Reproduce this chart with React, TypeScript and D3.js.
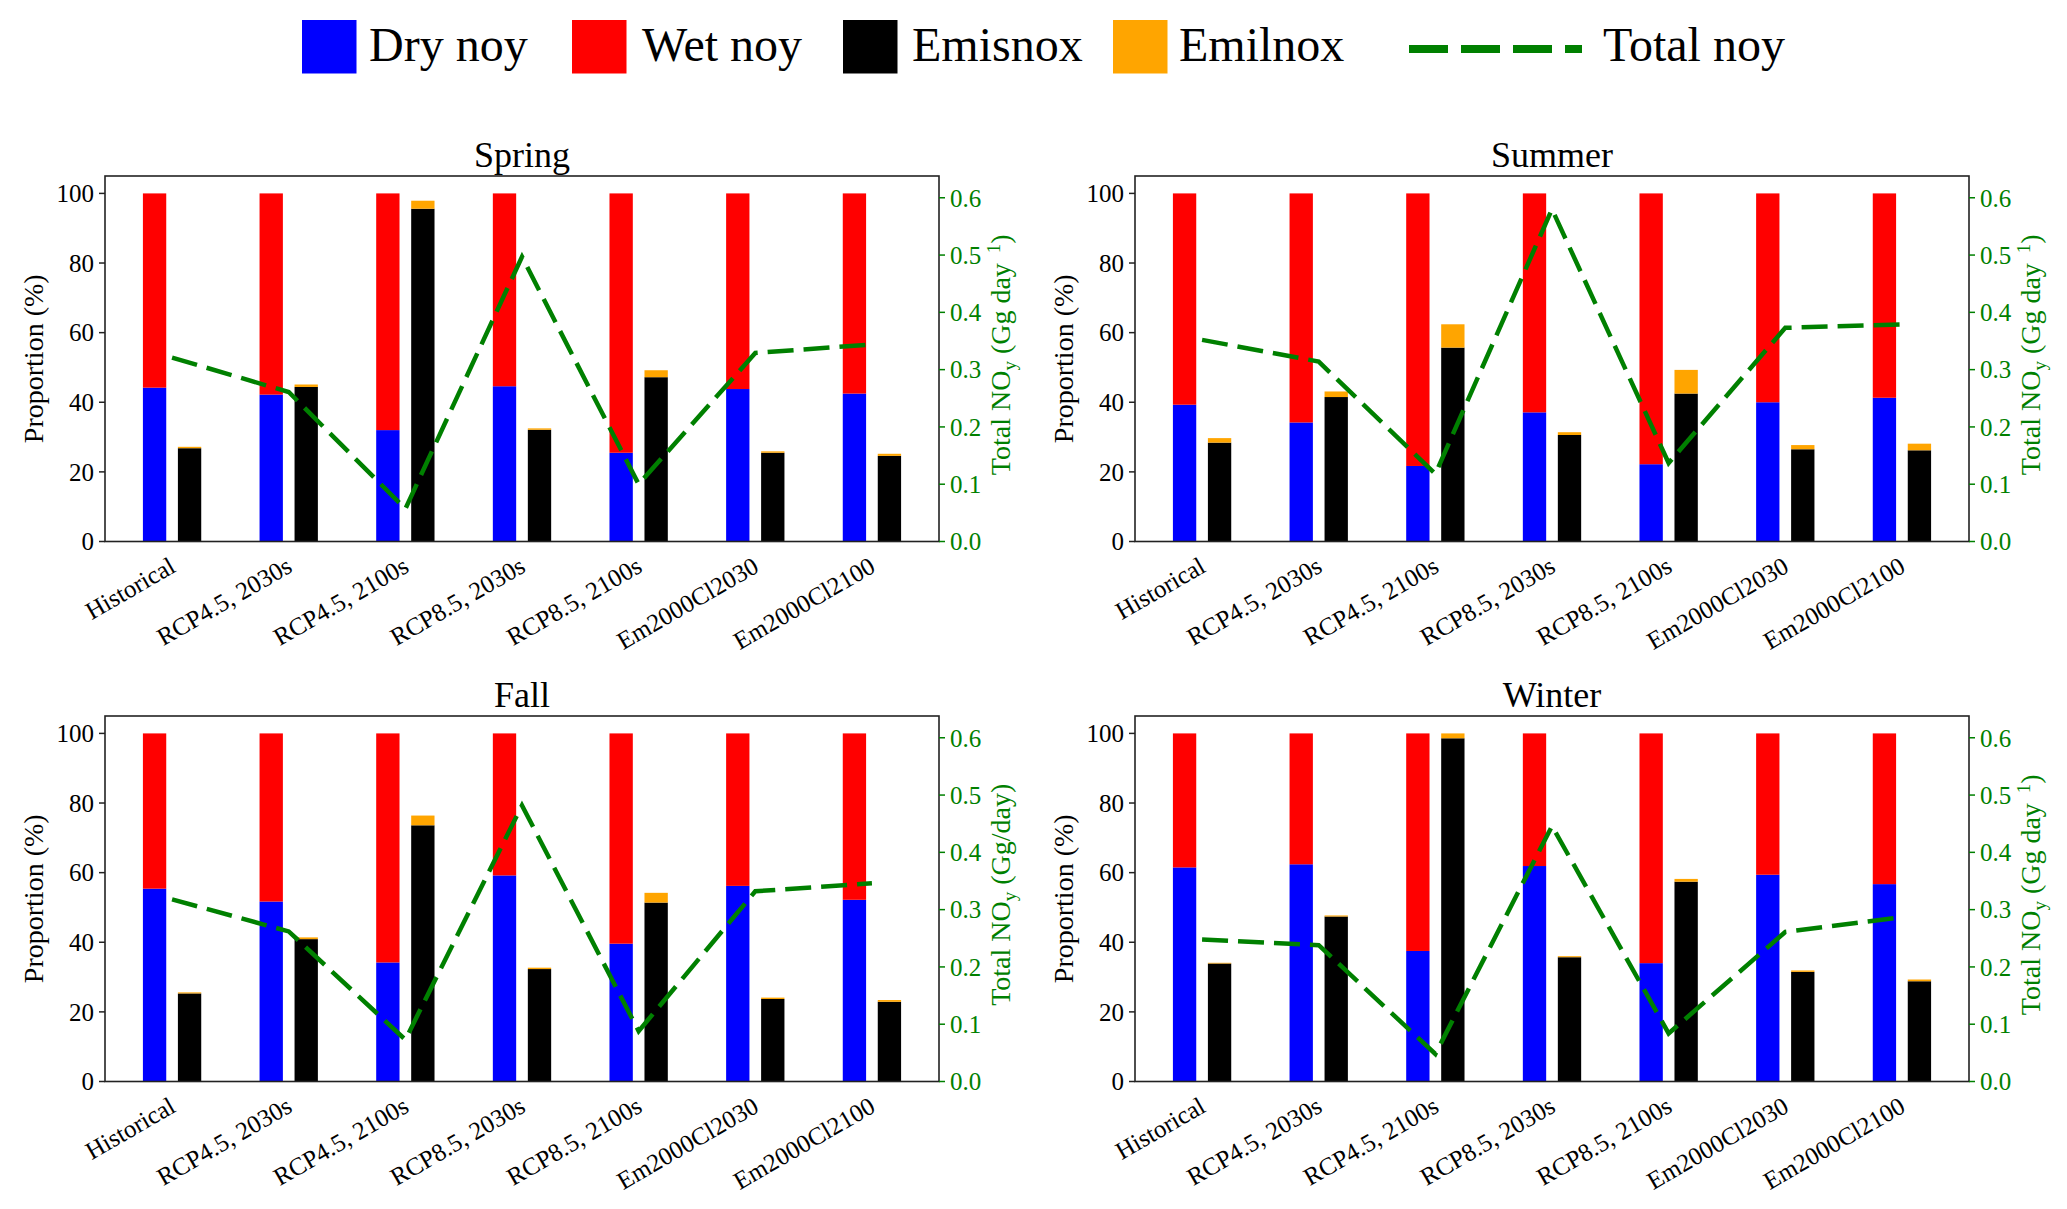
import React from "react";
import * as d3 from "d3";

const categories = [
  "Historical",
  "RCP4.5, 2030s",
  "RCP4.5, 2100s",
  "RCP8.5, 2030s",
  "RCP8.5, 2100s",
  "Em2000Cl2030",
  "Em2000Cl2100",
];

const springDry = [44.2, 42.2, 32.0, 44.6, 25.5, 43.8, 42.5];
const springWet = [55.8, 57.8, 68.0, 55.4, 74.5, 56.2, 57.5];
const springEmisnox = [26.8, 44.4, 95.6, 32.1, 47.2, 25.5, 24.6];
const springEmilnox = [0.4, 0.7, 2.3, 0.4, 2.0, 0.4, 0.6];
const springTotal = [0.321, 0.261, 0.057, 0.497, 0.1, 0.329, 0.344];

const summerDry = [39.3, 34.2, 21.7, 37.1, 22.2, 40.0, 41.3];
const summerWet = [60.7, 65.8, 78.3, 62.9, 77.8, 60.0, 58.7];
const summerEmisnox = [28.4, 41.5, 55.7, 30.6, 42.5, 26.5, 26.2];
const summerEmilnox = [1.3, 1.6, 6.7, 0.8, 6.8, 1.2, 1.9];
const summerTotal = [0.352, 0.314, 0.118, 0.58, 0.137, 0.373, 0.379];

const fallDry = [55.4, 51.7, 34.2, 59.2, 39.6, 56.2, 52.2];
const fallWet = [44.6, 48.3, 65.8, 40.8, 60.4, 43.8, 47.8];
const fallEmisnox = [25.3, 40.9, 73.6, 32.3, 51.4, 23.7, 22.9];
const fallEmilnox = [0.3, 0.5, 2.8, 0.4, 2.8, 0.4, 0.5];
const fallTotal = [0.318, 0.262, 0.073, 0.482, 0.088, 0.332, 0.346];

const winterDry = [61.5, 62.4, 37.5, 61.9, 34.0, 59.4, 56.7];
const winterWet = [38.5, 37.6, 62.5, 38.1, 66.0, 40.6, 43.3];
const winterEmisnox = [33.9, 47.4, 98.6, 35.7, 57.4, 31.5, 28.8];
const winterEmilnox = [0.2, 0.3, 1.4, 0.3, 0.8, 0.4, 0.5];
const winterTotal = [0.248, 0.238, 0.048, 0.446, 0.084, 0.261, 0.287];

const leftTicks = [0, 20, 40, 60, 80, 100];
const rightTicks = [0.0, 0.1, 0.2, 0.3, 0.4, 0.5, 0.6];

const legendLabels = ["Dry noy", "Wet noy", "Emisnox", "Emilnox", "Total noy"];

const seasons = [
  { title: "Spring", unit: "sup", dry: springDry, wet: springWet, emis: springEmisnox, emil: springEmilnox, total: springTotal, left: 105, top: 176 },
  { title: "Summer", unit: "sup", dry: summerDry, wet: summerWet, emis: summerEmisnox, emil: summerEmilnox, total: summerTotal, left: 1135, top: 176 },
  { title: "Fall", unit: "slash", dry: fallDry, wet: fallWet, emis: fallEmisnox, emil: fallEmilnox, total: fallTotal, left: 105, top: 716 },
  { title: "Winter", unit: "sup", dry: winterDry, wet: winterWet, emis: winterEmisnox, emil: winterEmilnox, total: winterTotal, left: 1135, top: 716 },
];

const W = 2067;
const H = 1209;
const PW = 834;
const PH = 365.5;
const FONT = "Liberation Serif, Tinos, Times New Roman, DejaVu Serif, serif";
const BLUE = "#0000ff";
const RED = "#ff0000";
const BLACK = "#000000";
const ORANGE = "#ffa500";
const GREEN = "#008000";

const tf = (size: number, fill = "#000") => ({ fontFamily: FONT, fontSize: size, fill });

function Panel({ s }: { s: any }) {
  const x = d3.scaleLinear().domain([-0.575, 6.575]).range([0, PW]);
  const y = d3.scaleLinear().domain([0, 105]).range([PH, 0]);
  const y2 = d3.scaleLinear().domain([0, 0.638]).range([PH, 0]);
  const bw = x(0.2) - x(0);
  const line = d3
    .line<number>()
    .x((_, i) => x(i))
    .y((d) => y2(d));
  const fmt = d3.format(".1f");
  return (
    <g transform={`translate(${s.left},${s.top})`}>
      <text x={PW / 2} y={-9.5} textAnchor="middle" style={tf(36)}>
        {s.title}
      </text>
      {categories.map((c, i) => (
        <g key={c}>
          <rect x={x(i - 0.15) - bw / 2} width={bw} y={y(s.dry[i])} height={y(0) - y(s.dry[i])} fill={BLUE} />
          <rect x={x(i - 0.15) - bw / 2} width={bw} y={y(s.dry[i] + s.wet[i])} height={y(s.dry[i]) - y(s.dry[i] + s.wet[i])} fill={RED} />
          <rect x={x(i + 0.15) - bw / 2} width={bw} y={y(s.emis[i])} height={y(0) - y(s.emis[i])} fill={BLACK} />
          <rect x={x(i + 0.15) - bw / 2} width={bw} y={y(s.emis[i] + s.emil[i])} height={y(s.emis[i]) - y(s.emis[i] + s.emil[i])} fill={ORANGE} />
        </g>
      ))}
      <path d={line(s.total) || ""} fill="none" stroke={GREEN} strokeWidth={4.5} strokeDasharray="26 10" />
      <rect x={0} y={0} width={PW} height={PH} fill="none" stroke="#222" strokeWidth={1.6} />
      {leftTicks.map((t) => (
        <g key={t} transform={`translate(0,${y(t)})`}>
          <line x1={-6} x2={0} stroke="#222" strokeWidth={1.5} />
          <text x={-11} dy="0.35em" textAnchor="end" style={tf(25)}>
            {t}
          </text>
        </g>
      ))}
      {rightTicks.map((t) => (
        <g key={t} transform={`translate(${PW},${y2(t)})`}>
          <line x1={0} x2={6} stroke={GREEN} strokeWidth={1.5} />
          <text x={11} dy="0.35em" textAnchor="start" style={tf(25, GREEN)}>
            {fmt(t)}
          </text>
        </g>
      ))}
      {categories.map((c, i) => (
        <text
          key={c}
          transform={`translate(${x(i) + 5},${PH + 29.5}) rotate(-30)`}
          textAnchor="end"
          style={tf(25)}
        >
          {c}
        </text>
      ))}
      <text transform={`translate(-62,${PH / 2}) rotate(-90)`} textAnchor="middle" style={tf(28)}>
        Proportion (%)
      </text>
      <text transform={`translate(${PW + 71},${PH / 2 - 4}) rotate(-90)`} textAnchor="middle" style={tf(28, GREEN)}>
        Total NO
        <tspan dy={6} style={{ fontSize: 19 }}>y</tspan>
        {s.unit === "sup" ? (
          <>
            <tspan dy={-6}> (Gg day</tspan>
            <tspan dx={10} dy={-10} style={{ fontSize: 19 }}>1</tspan>
            <tspan dy={10}>)</tspan>
          </>
        ) : (
          <tspan dy={-6}> (Gg/day)</tspan>
        )}
      </text>
    </g>
  );
}

function Legend() {
  const patches = [
    { x: 302, color: BLUE, label: legendLabels[0], tx: 369 },
    { x: 572, color: RED, label: legendLabels[1], tx: 642 },
    { x: 843, color: BLACK, label: legendLabels[2], tx: 912 },
    { x: 1113, color: ORANGE, label: legendLabels[3], tx: 1179 },
  ];
  return (
    <g>
      {patches.map((p) => (
        <g key={p.label}>
          <rect x={p.x} y={20} width={54.5} height={53.5} fill={p.color} />
          <text x={p.tx} y={61} style={tf(48)}>
            {p.label}
          </text>
        </g>
      ))}
      <line x1={1409} x2={1582} y1={49} y2={49} stroke={GREEN} strokeWidth={8} strokeDasharray="39 13" />
      <text x={1603} y={61} style={tf(48)}>
        {legendLabels[4]}
      </text>
    </g>
  );
}

export default function App() {
  return (
    <div>
      <style>{`body{margin:0;background:#fff} svg text{font-family:${FONT};}`}</style>
      <svg width={W} height={H} viewBox={`0 0 ${W} ${H}`} style={{ display: "block" }}>
        <rect width={W} height={H} fill="#fff" />
        <Legend />
        {seasons.map((s) => (
          <Panel key={s.title} s={s} />
        ))}
      </svg>
    </div>
  );
}
